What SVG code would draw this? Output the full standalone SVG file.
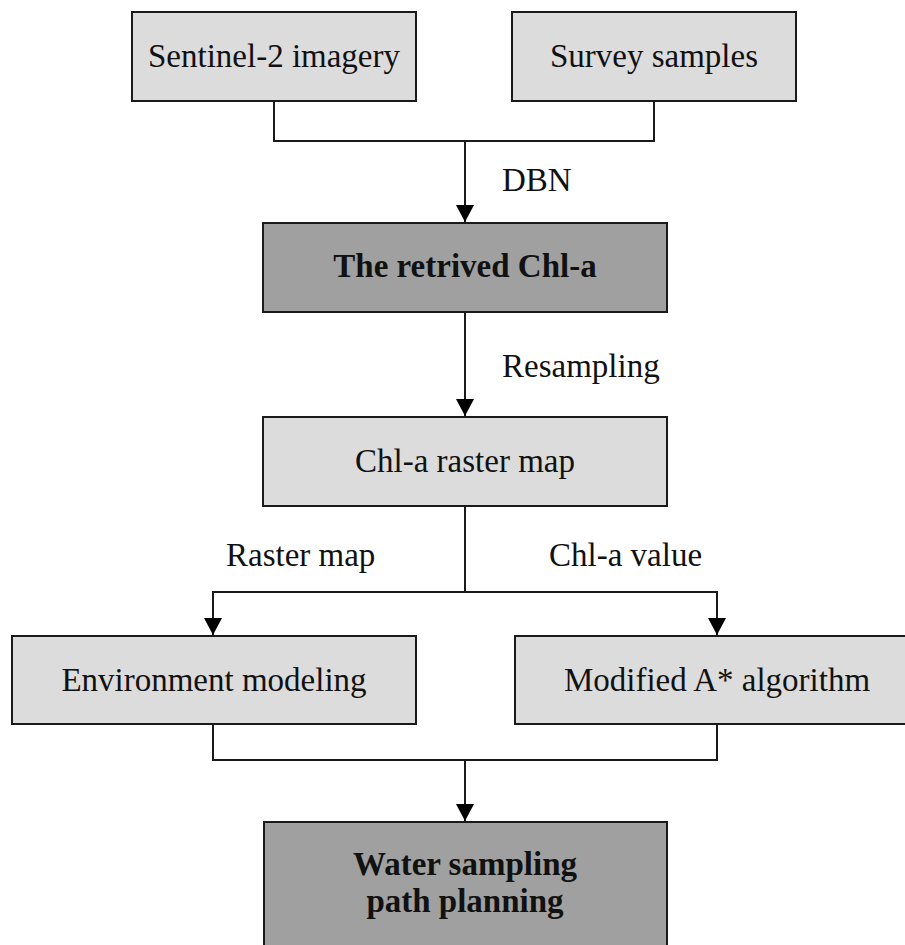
<svg xmlns="http://www.w3.org/2000/svg" width="905" height="945" viewBox="0 0 905 945">
  <style>
    .box { stroke: #1a1a1a; stroke-width: 2; }
    .light { fill: #dcdcdc; }
    .dark { fill: #a0a0a0; }
    text { font-family: "Liberation Serif", "Times New Roman", serif; font-size: 33px; fill: #111; }
    .c { text-anchor: middle; }
    .b { font-weight: bold; }
    .wire { fill: none; stroke: #1a1a1a; stroke-width: 2; }
  </style>
  <defs>
    <marker id="arrow" markerUnits="userSpaceOnUse" markerWidth="18" markerHeight="18" refX="17" refY="9" orient="auto">
      <path d="M0,0 L17,9 L0,18 Z" fill="#000"/>
    </marker>
  </defs>
  <rect width="905" height="945" fill="#fff"/>

  <g id="connectors">
    <path class="wire" d="M274,101 V141 H654 V101"/>
    <path class="wire" d="M465,141 V222" marker-end="url(#arrow)"/>
    <path class="wire" d="M465,312 V416" marker-end="url(#arrow)"/>
    <path class="wire" d="M465,506 V592"/>
    <path class="wire" d="M213,592 H717"/>
    <path class="wire" d="M213,591 V635" marker-end="url(#arrow)"/>
    <path class="wire" d="M717,591 V635" marker-end="url(#arrow)"/>
    <path class="wire" d="M213,724 V760 H717 V724"/>
    <path class="wire" d="M465,760 V821" marker-end="url(#arrow)"/>
    <text x="502" y="191">DBN</text>
    <text x="502" y="377">Resampling</text>
    <text x="226" y="566">Raster map</text>
    <text x="549" y="566">Chl-a value</text>
  </g>

  <g id="sentinel">
    <rect class="box light" x="132" y="12" width="284" height="89"/>
    <text class="c" x="274" y="67">Sentinel-2 imagery</text>
  </g>
  <g id="survey">
    <rect class="box light" x="512" y="12" width="284" height="89"/>
    <text class="c" x="654" y="67">Survey samples</text>
  </g>
  <g id="retrieved">
    <rect class="box dark" x="263" y="223" width="404" height="89"/>
    <text class="c b" x="465" y="277">The retrived Chl-a</text>
  </g>
  <g id="raster">
    <rect class="box light" x="263" y="417" width="404" height="89"/>
    <text class="c" x="465" y="472">Chl-a raster map</text>
  </g>
  <g id="environment">
    <rect class="box light" x="12" y="636" width="404" height="88"/>
    <text class="c" x="214" y="691">Environment modeling</text>
  </g>
  <g id="astar">
    <rect class="box light" x="515" y="636" width="404" height="88"/>
    <text class="c" x="717" y="691">Modified A* algorithm</text>
  </g>
  <g id="planning">
    <rect class="box dark" x="264" y="822" width="403" height="140"/>
    <text class="c b" x="465" y="875">Water sampling</text>
    <text class="c b" x="465" y="912">path planning</text>
  </g>
</svg>
